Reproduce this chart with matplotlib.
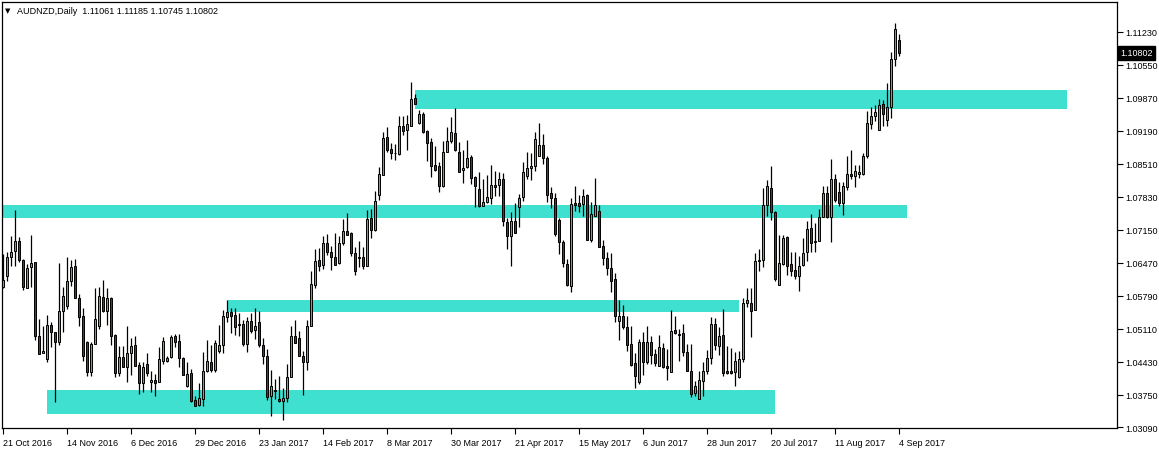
import numpy as np
import matplotlib
matplotlib.use("Agg")
import matplotlib.pyplot as plt
from matplotlib.patches import Rectangle
from matplotlib.transforms import blended_transform_factory

# ============================================================
# DATA  (AUDNZD daily bars)
# ============================================================

opens = [
    1.0598, 1.0621, 1.0660, 1.0672, 1.0692, 1.0653, 1.0595, 1.0639, 1.0649, 1.0497,
    1.0462, 1.0449, 1.0520, 1.0505, 1.0485, 1.0548, 1.0558, 1.0610, 1.0641, 1.0575,
    1.0538, 1.0485, 1.0423, 1.0481, 1.0517, 1.0577, 1.0548, 1.0575, 1.0499, 1.0421,
    1.0453, 1.0433, 1.0462, 1.0479, 1.0437, 1.0400, 1.0439, 1.0402, 1.0406, 1.0402,
    1.0445, 1.0445, 1.0453, 1.0497, 1.0487, 1.0451, 1.0394, 1.0421, 1.0365, 1.0355,
    1.0367, 1.0425, 1.0443, 1.0427, 1.0466, 1.0479, 1.0536, 1.0546, 1.0540, 1.0522,
    1.0522, 1.0481, 1.0528, 1.0509, 1.0526, 1.0479, 1.0456, 1.0373, 1.0384, 1.0367,
    1.0363, 1.0369, 1.0412, 1.0497, 1.0493, 1.0456, 1.0443, 1.0517, 1.0602, 1.0653,
    1.0643, 1.0688, 1.0670, 1.0660, 1.0647, 1.0688, 1.0713, 1.0709, 1.0668, 1.0660,
    1.0660, 1.0641, 1.0740, 1.0715, 1.0787, 1.0829, 1.0907, 1.0882, 1.0874, 1.0872,
    1.0929, 1.0921, 1.0929, 1.0987, 1.0936, 1.0954, 1.0919, 1.0896, 1.0849, 1.0847,
    1.0806, 1.0876, 1.0898, 1.0915, 1.0876, 1.0839, 1.0845, 1.0865, 1.0824, 1.0800,
    1.0765, 1.0773, 1.0781, 1.0808, 1.0808, 1.0820, 1.0732, 1.0703, 1.0734, 1.0763,
    1.0783, 1.0826, 1.0843, 1.0847, 1.0867, 1.0890, 1.0863, 1.0791, 1.0781, 1.0736,
    1.0690, 1.0645, 1.0600, 1.0771, 1.0771, 1.0769, 1.0787, 1.0694, 1.0744, 1.0754,
    1.0682, 1.0658, 1.0637, 1.0614, 1.0528, 1.0538, 1.0515, 1.0481, 1.0441, 1.0402,
    1.0485, 1.0443, 1.0485, 1.0460, 1.0435, 1.0472, 1.0435, 1.0423, 1.0509, 1.0501,
    1.0503, 1.0464, 1.0425, 1.0379, 1.0367, 1.0404, 1.0425, 1.0451, 1.0522, 1.0476,
    1.0499, 1.0425, 1.0425, 1.0423, 1.0412, 1.0449, 1.0565, 1.0565, 1.0550, 1.0651,
    1.0653, 1.0767, 1.0802, 1.0752, 1.0602, 1.0645, 1.0701, 1.0645, 1.0633, 1.0621,
    1.0643, 1.0670, 1.0719, 1.0690, 1.0692, 1.0742, 1.0791, 1.0742, 1.0820, 1.0794,
    1.0771, 1.0804, 1.0831, 1.0826, 1.0831, 1.0831, 1.0867, 1.0933, 1.0950, 1.0921,
    1.0975, 1.0942, 1.0968, 1.1067, 1.11061,
]

highs = [
    1.0666, 1.0670, 1.0703, 1.0756, 1.0701, 1.0655, 1.0645, 1.0705, 1.0649, 1.0532,
    1.0517, 1.0540, 1.0526, 1.0505, 1.0647, 1.0598, 1.0660, 1.0653, 1.0655, 1.0583,
    1.0554, 1.0487, 1.0485, 1.0595, 1.0598, 1.0612, 1.0595, 1.0577, 1.0501, 1.0476,
    1.0476, 1.0517, 1.0493, 1.0497, 1.0443, 1.0443, 1.0462, 1.0425, 1.0419, 1.0474,
    1.0495, 1.0456, 1.0499, 1.0501, 1.0501, 1.0453, 1.0443, 1.0429, 1.0373, 1.0400,
    1.0464, 1.0489, 1.0479, 1.0489, 1.0520, 1.0550, 1.0571, 1.0554, 1.0554, 1.0544,
    1.0530, 1.0536, 1.0544, 1.0554, 1.0548, 1.0493, 1.0470, 1.0427, 1.0408, 1.0415,
    1.0390, 1.0439, 1.0517, 1.0530, 1.0507, 1.0466, 1.0530, 1.0631, 1.0676, 1.0678,
    1.0703, 1.0707, 1.0682, 1.0709, 1.0703, 1.0738, 1.0750, 1.0711, 1.0680, 1.0692,
    1.0680, 1.0756, 1.0758, 1.0796, 1.0845, 1.0917, 1.0927, 1.0894, 1.0892, 1.0950,
    1.0950, 1.0952, 1.1020, 1.0995, 1.0962, 1.0958, 1.0921, 1.0905, 1.0888, 1.0855,
    1.0898, 1.0927, 1.0948, 1.0966, 1.0896, 1.0880, 1.0901, 1.0870, 1.0826, 1.0835,
    1.0820, 1.0828, 1.0849, 1.0837, 1.0835, 1.0833, 1.0740, 1.0752, 1.0771, 1.0789,
    1.0855, 1.0876, 1.0874, 1.0917, 1.0936, 1.0913, 1.0867, 1.0804, 1.0791, 1.0740,
    1.0694, 1.0655, 1.0781, 1.0806, 1.0787, 1.0800, 1.0789, 1.0773, 1.0822, 1.0767,
    1.0694, 1.0670, 1.0668, 1.0627, 1.0571, 1.0561, 1.0538, 1.0517, 1.0462, 1.0491,
    1.0505, 1.0517, 1.0497, 1.0470, 1.0499, 1.0483, 1.0470, 1.0550, 1.0538, 1.0511,
    1.0522, 1.0481, 1.0481, 1.0404, 1.0425, 1.0443, 1.0468, 1.0536, 1.0534, 1.0515,
    1.0552, 1.0476, 1.0472, 1.0464, 1.0466, 1.0575, 1.0595, 1.0595, 1.0668, 1.0676,
    1.0802, 1.0818, 1.0847, 1.0754, 1.0705, 1.0705, 1.0703, 1.0670, 1.0670, 1.0662,
    1.0699, 1.0734, 1.0748, 1.0730, 1.0758, 1.0806, 1.0806, 1.0861, 1.0831, 1.0814,
    1.0814, 1.0867, 1.0880, 1.0849, 1.0849, 1.0874, 1.0960, 1.0968, 1.0973, 1.0985,
    1.0983, 1.1018, 1.1082, 1.1142, 1.11185,
]

lows = [
    1.0595, 1.0610, 1.0641, 1.0641, 1.0649, 1.0591, 1.0595, 1.0598, 1.0489, 1.0460,
    1.0462, 1.0443, 1.0474, 1.0361, 1.0479, 1.0505, 1.0552, 1.0600, 1.0575, 1.0517,
    1.0445, 1.0415, 1.0415, 1.0481, 1.0511, 1.0546, 1.0520, 1.0479, 1.0412, 1.0415,
    1.0433, 1.0402, 1.0417, 1.0435, 1.0377, 1.0381, 1.0415, 1.0381, 1.0373, 1.0402,
    1.0439, 1.0443, 1.0451, 1.0474, 1.0433, 1.0417, 1.0392, 1.0361, 1.0353, 1.0353,
    1.0353, 1.0423, 1.0423, 1.0423, 1.0462, 1.0462, 1.0526, 1.0503, 1.0499, 1.0497,
    1.0476, 1.0464, 1.0503, 1.0491, 1.0474, 1.0439, 1.0365, 1.0332, 1.0367, 1.0361,
    1.0324, 1.0361, 1.0412, 1.0483, 1.0456, 1.0375, 1.0427, 1.0517, 1.0595, 1.0631,
    1.0635, 1.0664, 1.0633, 1.0643, 1.0645, 1.0684, 1.0705, 1.0662, 1.0623, 1.0639,
    1.0635, 1.0641, 1.0699, 1.0713, 1.0777, 1.0829, 1.0876, 1.0861, 1.0859, 1.0870,
    1.0911, 1.0880, 1.0929, 1.0975, 1.0933, 1.0915, 1.0857, 1.0824, 1.0837, 1.0794,
    1.0804, 1.0876, 1.0894, 1.0878, 1.0835, 1.0812, 1.0843, 1.0810, 1.0763, 1.0763,
    1.0765, 1.0771, 1.0769, 1.0785, 1.0785, 1.0723, 1.0676, 1.0641, 1.0709, 1.0721,
    1.0775, 1.0820, 1.0818, 1.0837, 1.0867, 1.0851, 1.0773, 1.0760, 1.0703, 1.0666,
    1.0639, 1.0600, 1.0587, 1.0754, 1.0752, 1.0744, 1.0694, 1.0690, 1.0744, 1.0680,
    1.0643, 1.0623, 1.0587, 1.0526, 1.0489, 1.0511, 1.0466, 1.0435, 1.0390, 1.0398,
    1.0417, 1.0439, 1.0439, 1.0435, 1.0435, 1.0431, 1.0406, 1.0423, 1.0501, 1.0445,
    1.0456, 1.0425, 1.0371, 1.0373, 1.0367, 1.0373, 1.0419, 1.0439, 1.0468, 1.0458,
    1.0415, 1.0419, 1.0419, 1.0394, 1.0410, 1.0443, 1.0556, 1.0495, 1.0550, 1.0631,
    1.0639, 1.0744, 1.0736, 1.0610, 1.0602, 1.0643, 1.0623, 1.0621, 1.0614, 1.0589,
    1.0641, 1.0651, 1.0670, 1.0670, 1.0692, 1.0742, 1.0740, 1.0690, 1.0773, 1.0765,
    1.0746, 1.0798, 1.0820, 1.0804, 1.0822, 1.0829, 1.0863, 1.0923, 1.0940, 1.0921,
    1.0929, 1.0929, 1.0946, 1.1053, 1.10745,
]

closes = [
    1.0612, 1.0660, 1.0670, 1.0692, 1.0653, 1.0598, 1.0637, 1.0647, 1.0497, 1.0460,
    1.0466, 1.0520, 1.0505, 1.0485, 1.0548, 1.0579, 1.0610, 1.0639, 1.0575, 1.0536,
    1.0456, 1.0423, 1.0481, 1.0532, 1.0579, 1.0548, 1.0575, 1.0497, 1.0421, 1.0453,
    1.0433, 1.0462, 1.0476, 1.0435, 1.0400, 1.0433, 1.0421, 1.0406, 1.0400, 1.0449,
    1.0487, 1.0451, 1.0495, 1.0485, 1.0451, 1.0417, 1.0419, 1.0363, 1.0353, 1.0369,
    1.0425, 1.0445, 1.0427, 1.0483, 1.0479, 1.0538, 1.0546, 1.0538, 1.0515, 1.0520,
    1.0481, 1.0528, 1.0507, 1.0517, 1.0479, 1.0456, 1.0371, 1.0394, 1.0386, 1.0363,
    1.0369, 1.0412, 1.0497, 1.0483, 1.0456, 1.0443, 1.0517, 1.0604, 1.0651, 1.0641,
    1.0688, 1.0670, 1.0660, 1.0643, 1.0688, 1.0713, 1.0705, 1.0668, 1.0631, 1.0658,
    1.0641, 1.0738, 1.0715, 1.0775, 1.0831, 1.0905, 1.0880, 1.0874, 1.0873, 1.0929,
    1.0919, 1.0933, 1.0985, 1.0975, 1.0954, 1.0917, 1.0894, 1.0847, 1.0839, 1.0806,
    1.0876, 1.0898, 1.0917, 1.0880, 1.0835, 1.0843, 1.0863, 1.0822, 1.0806, 1.0765,
    1.0773, 1.0783, 1.0808, 1.0804, 1.0820, 1.0734, 1.0703, 1.0734, 1.0709, 1.0781,
    1.0835, 1.0843, 1.0847, 1.0903, 1.0890, 1.0863, 1.0787, 1.0781, 1.0707, 1.0690,
    1.0647, 1.0602, 1.0769, 1.0767, 1.0765, 1.0785, 1.0694, 1.0748, 1.0767, 1.0680,
    1.0658, 1.0637, 1.0610, 1.0538, 1.0538, 1.0515, 1.0479, 1.0437, 1.0415, 1.0485,
    1.0443, 1.0485, 1.0458, 1.0441, 1.0474, 1.0433, 1.0431, 1.0507, 1.0503, 1.0499,
    1.0464, 1.0425, 1.0377, 1.0394, 1.0406, 1.0425, 1.0451, 1.0522, 1.0479, 1.0497,
    1.0421, 1.0421, 1.0421, 1.0445, 1.0449, 1.0565, 1.0571, 1.0548, 1.0651, 1.0653,
    1.0767, 1.0806, 1.0752, 1.0614, 1.0647, 1.0699, 1.0641, 1.0631, 1.0621, 1.0641,
    1.0668, 1.0717, 1.0688, 1.0692, 1.0742, 1.0791, 1.0742, 1.0820, 1.0777, 1.0771,
    1.0806, 1.0831, 1.0826, 1.0837, 1.0835, 1.0867, 1.0936, 1.0950, 1.0958, 1.0973,
    1.0954, 1.0968, 1.1067, 1.1129, 1.10802,
]

date_labels = ["21 Oct 2016", "14 Nov 2016", "6 Dec 2016", "29 Dec 2016", "23 Jan 2017",
               "14 Feb 2017", "8 Mar 2017", "30 Mar 2017", "21 Apr 2017", "15 May 2017",
               "6 Jun 2017", "28 Jun 2017", "20 Jul 2017", "11 Aug 2017", "4 Sep 2017"]
date_bars = [0, 16, 32, 48, 64, 80, 96, 112, 128, 144, 160, 176, 192, 208, 224]

price_ticks = [1.11230, 1.10550, 1.09870, 1.09190, 1.08510, 1.07830, 1.07150,
               1.06470, 1.05790, 1.05110, 1.04430, 1.03750, 1.03090]

# support / resistance zones drawn on the chart (bar index span, price span)
zone_start = [103, -0.75, 56.25, 11]
zone_end = [266, 226, 184, 193]
zone_top = [1.10035, 1.07665, 1.05708, 1.03853]
zone_bottom = [1.09643, 1.07397, 1.05460, 1.03359]

symbol = "AUDNZD,Daily"
last_price = 1.10802

# ============================================================
# PLOT
# ============================================================

plt.rcParams['font.family'] = ['Liberation Sans', 'DejaVu Sans']

W, H = 1159, 452
fig = plt.figure(figsize=(W / 100, H / 100), dpi=100)
fig.patch.set_facecolor('white')
ax = fig.add_axes([2 / W, (H - 429) / H, (1117 - 2) / W, (429 - 3) / H])

o = np.array(opens)
h = np.array(highs)
l = np.array(lows)
c = np.array(closes)
x = np.arange(len(o))

for s, e, t, b in zip(zone_start, zone_end, zone_top, zone_bottom):
    ax.add_patch(Rectangle((s, b), e - s, t - b, facecolor='#40E0D0',
                           edgecolor='none', zorder=1))

up = c >= o
colors = np.where(up, '#22DD22', '#E00000')
ax.vlines(x, l, h, color='black', lw=0.9, zorder=2)
ax.bar(x, np.abs(c - o), bottom=np.minimum(o, c), width=0.5, color=colors,
       edgecolor='black', linewidth=0.7, zorder=3)

ax.set_xlim(-0.25, 278.5)
ax.set_ylim(1.0307, 1.11848)

ax.yaxis.tick_right()
ax.set_yticks(price_ticks)
ax.set_yticklabels([f"{p:.5f}" for p in price_ticks])
ax.set_xticks(date_bars)
ax.set_xticklabels(date_labels)
for lab in ax.get_xticklabels():
    lab.set_ha('left')
ax.tick_params(axis='both', direction='out', length=4, width=0.8,
               labelsize=6.5, colors='black', pad=2)
ax.tick_params(axis='x', pad=3)
for sp in ax.spines.values():
    sp.set_color('black')
    sp.set_linewidth(0.9)

# current price box on the price scale
tr = blended_transform_factory(ax.transAxes, ax.transData)
ax.text(1.0 + 3 / 1115, last_price, f"{last_price:.5f}", transform=tr,
        fontsize=6.5, color='white', va='center', ha='left', zorder=10,
        bbox=dict(boxstyle='square,pad=0.25', facecolor='black', edgecolor='black'),
        clip_on=False)

# header
fig.text(5 / W, 1 - 11 / H, "\u25bc", fontsize=5, va='center', ha='left',
         family='DejaVu Sans')
fig.text(17 / W, 1 - 11 / H,
         f"{symbol}  {opens[-1]:.5f} {highs[-1]:.5f} {lows[-1]:.5f} {closes[-1]:.5f}",
         fontsize=6.5, va='center', ha='left')

fig.savefig("out.png", dpi=100)
